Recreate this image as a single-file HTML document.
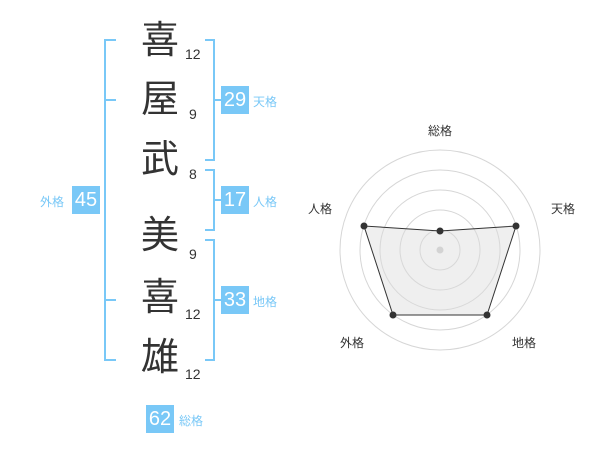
<!DOCTYPE html>
<html><head><meta charset="utf-8"><style>
body{margin:0;width:600px;height:470px;background:#fff;position:relative;overflow:hidden;font-family:"Liberation Sans","Noto Sans CJK JP",sans-serif}
.k{position:absolute;left:140px;width:40px;text-align:center;font-size:38px;line-height:40px;color:#333}
.n{position:absolute;font-size:14px;color:#333;line-height:16px}
.b{position:absolute;background:#79c8f7;color:#fff;font-size:20px;line-height:29px;height:28px;width:28px;text-align:center}
.l{position:absolute;color:#79c8f7;font-size:12px;line-height:14px}
.v{position:absolute;background:#79c8f7}
</style></head><body>
<div class="k" style="top:21px">喜</div><div class="n" style="left:185px;top:46px">12</div>
<div class="k" style="top:80px">屋</div><div class="n" style="left:189px;top:106px">9</div>
<div class="k" style="top:140px">武</div><div class="n" style="left:189px;top:166px">8</div>
<div class="k" style="top:216px">美</div><div class="n" style="left:189px;top:246px">9</div>
<div class="k" style="top:278px">喜</div><div class="n" style="left:185px;top:306px">12</div>
<div class="k" style="top:338px">雄</div><div class="n" style="left:185px;top:366px">12</div>

<div class="v" style="left:104px;top:39px;width:2px;height:322px"></div>
<div class="v" style="left:104px;top:39px;width:12px;height:2px"></div>
<div class="v" style="left:104px;top:99px;width:12px;height:2px"></div>
<div class="v" style="left:104px;top:299px;width:12px;height:2px"></div>
<div class="v" style="left:104px;top:359px;width:12px;height:2px"></div>
<div class="v" style="left:213px;top:39px;width:2px;height:122px"></div>
<div class="v" style="left:205px;top:39px;width:10px;height:2px"></div>
<div class="v" style="left:205px;top:159px;width:10px;height:2px"></div>
<div class="v" style="left:213px;top:99px;width:8px;height:2px"></div>
<div class="v" style="left:213px;top:169px;width:2px;height:62px"></div>
<div class="v" style="left:205px;top:169px;width:10px;height:2px"></div>
<div class="v" style="left:205px;top:229px;width:10px;height:2px"></div>
<div class="v" style="left:213px;top:199px;width:8px;height:2px"></div>
<div class="v" style="left:213px;top:239px;width:2px;height:122px"></div>
<div class="v" style="left:205px;top:239px;width:10px;height:2px"></div>
<div class="v" style="left:205px;top:359px;width:10px;height:2px"></div>
<div class="v" style="left:213px;top:299px;width:8px;height:2px"></div>

<div class="b" style="left:221px;top:86px">29</div><div class="l" style="left:253px;top:95px">天格</div>
<div class="b" style="left:221px;top:186px">17</div><div class="l" style="left:253px;top:195px">人格</div>
<div class="b" style="left:221px;top:286px">33</div><div class="l" style="left:253px;top:295px">地格</div>
<div class="b" style="left:72px;top:186px">45</div><div class="l" style="left:40px;top:195px">外格</div>
<div class="b" style="left:146px;top:405px">62</div><div class="l" style="left:179px;top:414px">総格</div>

<svg width="600" height="470" style="position:absolute;left:0;top:0">
<g fill="none" stroke="#d6d6d6" stroke-width="1">
<circle cx="440" cy="250" r="20"/><circle cx="440" cy="250" r="40"/><circle cx="440" cy="250" r="60"/><circle cx="440" cy="250" r="80"/><circle cx="440" cy="250" r="100"/>
</g>
<circle cx="440" cy="250" r="3.5" fill="#ccc"/>
<polygon points="440,231 516,226 487,315 393,315 364,226" fill="rgba(220,220,220,0.45)" stroke="#333" stroke-width="1"/>
<g fill="#333"><circle cx="440" cy="231" r="3.5"/><circle cx="516" cy="226" r="3.5"/><circle cx="487" cy="315" r="3.5"/><circle cx="393" cy="315" r="3.5"/><circle cx="364" cy="226" r="3.5"/></g>
<g font-size="12" fill="#333" text-anchor="middle" font-family="Liberation Sans,Noto Sans CJK JP,sans-serif">
<text x="440" y="135">総格</text><text x="563" y="213">天格</text><text x="320" y="213">人格</text><text x="524" y="347">地格</text><text x="352" y="347">外格</text>
</g>
</svg>
</body></html>
